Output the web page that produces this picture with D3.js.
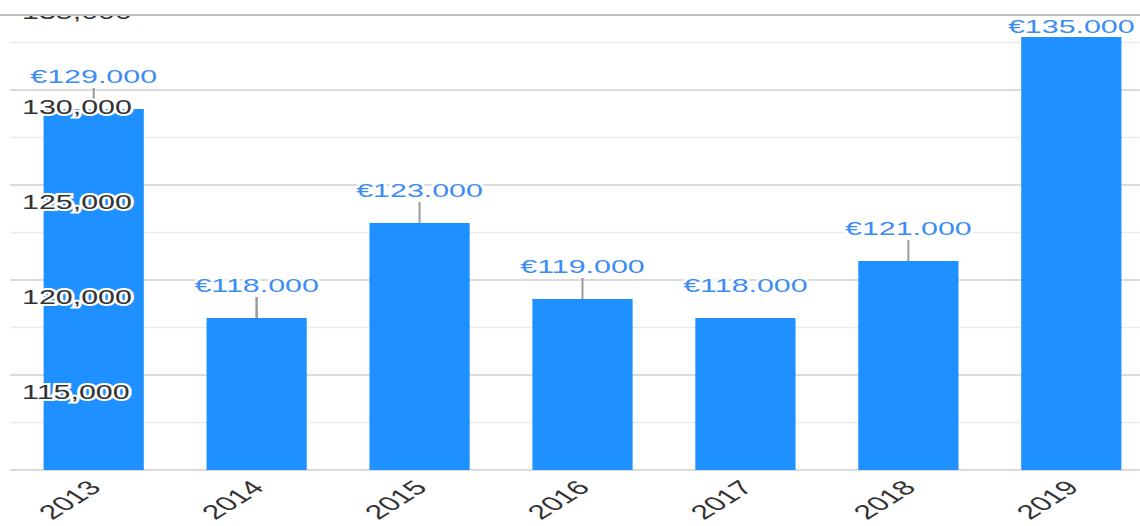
<!DOCTYPE html>
<html>
<head>
<meta charset="utf-8">
<script src="https://cdn.jsdelivr.net/npm/d3@7"></script>
<style>
  body { margin: 0; background: #fff; }
  svg { display: block; font-family: "Liberation Sans", Arial, sans-serif; }
</style>
</head>
<body>
<svg></svg>
<script>
'use strict'

const years = ['2013', '2014', '2015', '2016', '2017', '2018', '2019']
const values = [129000, 118000, 123000, 119000, 118000, 121000, 135000]
const majorTicks = [110000, 115000, 120000, 125000, 130000, 135000]
const minorTicks = [112500, 117500, 122500, 127500, 132500]

const width = 1140
const height = 526
const stretch = 1.6   // the whole picture is widened horizontally
const frameTop = 15    // top frame line, nothing of the axis shows above it
const plotTop = 37     // bars are cut off here

const svg = d3.select('svg').attr('width', width).attr('height', height)

const x = d3.scaleBand().domain(years).range([11, 1154]).paddingInner(0.385).paddingOuter(0.2)
const y = d3.scaleLinear().domain([110000, 135000]).range([470, -5])

const defs = svg.append('defs')
defs.append('clipPath').attr('id', 'plot')
    .append('rect').attr('x', 0).attr('y', plotTop).attr('width', width).attr('height', y(110000) - plotTop)
defs.append('clipPath').attr('id', 'frame')
    .append('rect').attr('x', 0).attr('y', frameTop).attr('width', width).attr('height', height - frameTop)

// grid
svg.append('g').selectAll('line').data(minorTicks).join('line')
    .attr('x1', 10).attr('x2', width)
    .attr('y1', d => y(d)).attr('y2', d => y(d))
    .attr('stroke', '#ebebeb').attr('stroke-width', 1.5)

svg.append('g').selectAll('line').data(majorTicks).join('line')
    .attr('x1', 10).attr('x2', width)
    .attr('y1', d => y(d)).attr('y2', d => y(d))
    .attr('stroke', '#cfcfcf').attr('stroke-width', 1.5)

// bars
svg.append('g').attr('clip-path', 'url(#plot)')
    .selectAll('rect').data(values).join('rect')
    .attr('x', (d, i) => x(years[i]))
    .attr('width', x.bandwidth())
    .attr('y', d => y(d))
    .attr('height', d => y(110000) - y(d))
    .attr('fill', '#1e90ff')

// value labels with leader lines
const fmt = d => '€' + d3.format(',')(d).replace(/,/g, '.')
const labelY = d => Math.max(y(d) - 26, plotTop - 4)

svg.append('g').selectAll('line').data(values.filter(d => y(d) > plotTop)).join('line')
    .attr('x1', d => x(years[values.indexOf(d)]) + x.bandwidth() / 2)
    .attr('x2', d => x(years[values.indexOf(d)]) + x.bandwidth() / 2)
    .attr('y1', d => y(d)).attr('y2', d => y(d) - 21)
    .attr('stroke', '#9a9a9a').attr('stroke-width', 2)

svg.append('g').selectAll('text').data(values).join('text')
    .attr('transform', (d, i) => `translate(${x(years[i]) + x.bandwidth() / 2},${labelY(d)}) scale(${stretch},1)`)
    .attr('text-anchor', 'middle')
    .attr('font-size', 19)
    .attr('fill', '#3b8cf4')
    .attr('stroke', '#fff').attr('stroke-width', 4).attr('paint-order', 'stroke')
    .text(fmt)

// y labels, inside the plot
svg.append('g').attr('clip-path', 'url(#frame)')
    .selectAll('text').data(majorTicks.filter(d => d > 110000)).join('text')
    .attr('transform', d => `translate(22,${y(d) + 24}) scale(1.52,1)`)
    .attr('font-size', 20)
    .attr('fill', '#333')
    .attr('stroke', '#fff').attr('stroke-width', 4).attr('paint-order', 'stroke')
    .text(d3.format(','))

// x labels
svg.append('g').selectAll('text').data(years).join('text')
    .attr('transform', d => `translate(${x(d) + x.bandwidth() / 2 + 1},484) scale(${stretch},1) rotate(-45)`)
    .attr('text-anchor', 'end')
    .attr('dy', '0.35em')
    .attr('font-size', 20)
    .attr('fill', '#333')
    .text(d => d)

// top frame line
svg.append('line').attr('x1', 0).attr('x2', width).attr('y1', frameTop).attr('y2', frameTop)
    .attr('stroke', '#bdbdbd').attr('stroke-width', 2)
</script>
</body>
</html>
